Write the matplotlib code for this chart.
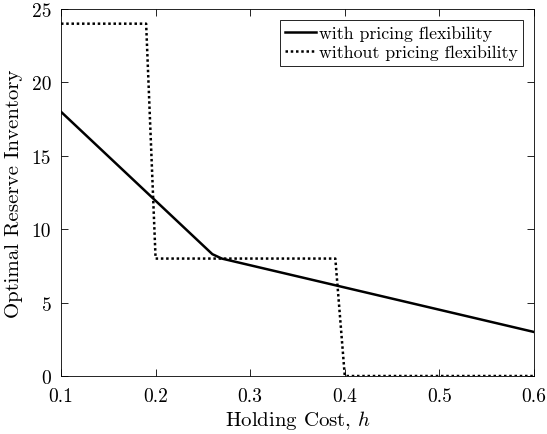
import matplotlib
matplotlib.use("Agg")
import matplotlib.pyplot as plt

plt.rcParams['font.family'] = 'serif'
plt.rcParams['font.serif'] = ['cmr10']
plt.rcParams['mathtext.fontset'] = 'cm'
plt.rcParams['axes.formatter.use_mathtext'] = True

# with pricing flexibility
h_flex = [0.1, 0.26, 0.27, 0.6]
q_flex = [18, 8.3, 8.0, 3.0]

# without pricing flexibility
h_fixed = [0.1, 0.19, 0.2, 0.39, 0.4, 0.6]
q_fixed = [24, 24, 8, 8, 0, 0]

xticks = [0.1, 0.2, 0.3, 0.4, 0.5, 0.6]
yticks = [0, 5, 10, 15, 20, 25]

fig = plt.figure(figsize=(5.47, 4.35), dpi=100)
ax = fig.add_axes([0.1115, 0.1333, 0.8647, 0.8437])

ax.plot(h_flex, q_flex, color='black', linewidth=1.8, label='with pricing flexibility')
ax.plot(h_fixed, q_fixed, color='black', linewidth=1.8, linestyle=(0, (1, 1.1)),
        label='without pricing flexibility')

ax.set_xlim(0.1, 0.6)
ax.set_ylim(0, 25)
ax.set_xticks(xticks)
ax.set_yticks(yticks)
ax.set_xticklabels([str(t) for t in xticks])
ax.set_yticklabels([str(t) for t in yticks])
ax.tick_params(direction='in', top=True, right=True, labelsize=14, length=5, width=0.6)
ax.tick_params(axis='x', pad=8)
ax.tick_params(axis='y', pad=7)
for s in ax.spines.values():
    s.set_linewidth(0.6)

ax.set_xlabel('Holding Cost, $h$', fontsize=15, labelpad=2)
ax.set_ylabel('Optimal Reserve Inventory', fontsize=15, labelpad=6)

leg = ax.legend(loc='upper right', fontsize=12.8, fancybox=False, framealpha=1,
                edgecolor='black', handlelength=1.7, handletextpad=0.2,
                borderpad=0.3, labelspacing=0.2, borderaxespad=0.6)
leg.get_frame().set_linewidth(0.6)

fig.savefig('out.png', dpi=100)
